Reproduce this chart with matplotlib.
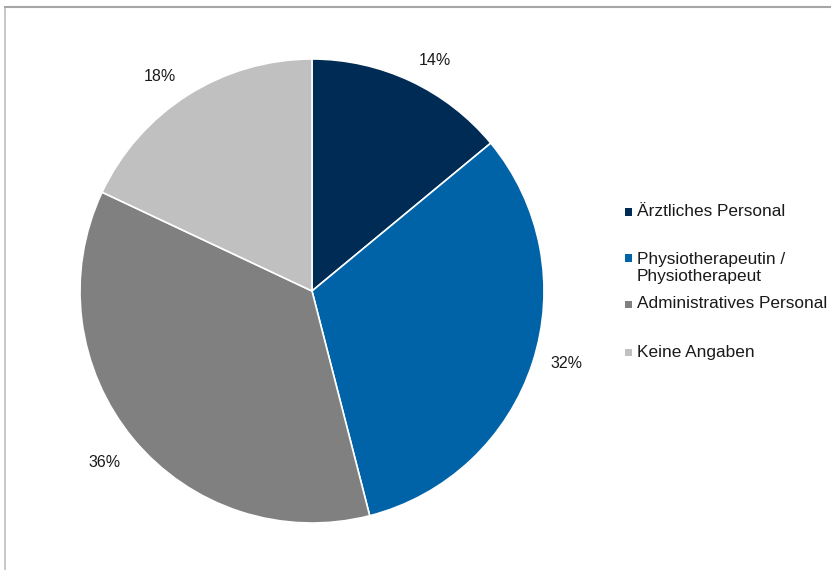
import matplotlib
matplotlib.use("Agg")
import matplotlib.pyplot as plt
import numpy as np
from matplotlib.patches import Rectangle
from matplotlib.lines import Line2D

plt.rcParams['font.family'] = ['Liberation Sans', 'DejaVu Sans']

categories = ["Ärztliches Personal", "Physiotherapeutin /\nPhysiotherapeut",
              "Administratives Personal", "Keine Angaben"]
values = [14, 32, 36, 18]
colors = ["#002B55", "#0062A7", "#808080", "#C0C0C0"]

W, H = 831, 570
fig = plt.figure(figsize=(W / 100, H / 100), dpi=100)

# outer border (top and left visible)
fig.add_artist(Line2D([5 / W, 5 / W], [0, 1 - 7 / H], color="#BFBFBF", lw=1.2))
fig.add_artist(Line2D([5 / W, 1], [1 - 7 / H, 1 - 7 / H], color="#A6A6A6", lw=1.5))

cx, cy, r = 312, 291, 232
ax = fig.add_axes([(cx - r) / W, (H - cy - r) / H, 2 * r / W, 2 * r / H])
wedges, texts = ax.pie(values, colors=colors, startangle=90, counterclock=False,
                       radius=1, labels=[f"{v}%" for v in values], labeldistance=1.14,
                       wedgeprops=dict(edgecolor="white", linewidth=1.2),
                       textprops=dict(fontsize=11.5, color="#1a1a1a"))
# outside-end label placement (distance depends on label direction)
label_dist = [1.126, 1.142, 1.16, 1.135]
label_shift = [2.8, -2.2, 0, -2.9]  # degrees
for w, t, d, s in zip(wedges, texts, label_dist, label_shift):
    ang = np.deg2rad((w.theta1 + w.theta2) / 2 - s)
    t.set_position((d * np.cos(ang), d * np.sin(ang)))
    t.set_ha("center")
    t.set_va("center")
ax.set_xlim(-1, 1)
ax.set_ylim(-1, 1)
ax.set_aspect("auto")
ax.axis("off")

# legend (manual, Excel-like spacing)
leg_y = [212, 268, 304, 352]
for lab, col, y in zip(categories, colors, leg_y):
    nlines = lab.count("\n") + 1
    ytop = y - (nlines - 1) * 20 / 2
    fig.add_artist(Rectangle((625 / W, 1 - (ytop + 3.5) / H), 7 / W, 7 / H,
                             facecolor=col, edgecolor="none", transform=fig.transFigure))
    fig.text(637 / W, 1 - y / H, lab, fontsize=12.4, color="#1a1a1a",
             ha="left", va="center", linespacing=1.15)

fig.savefig("out.png", dpi=100)
